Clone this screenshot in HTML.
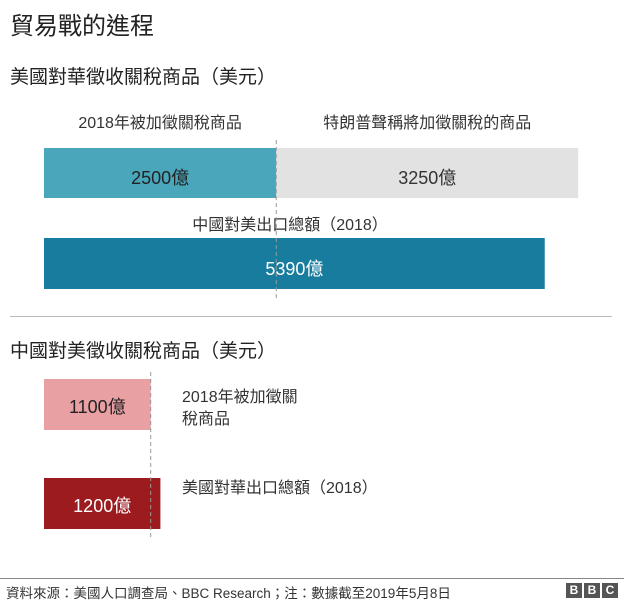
<!DOCTYPE html>
<html><head><meta charset="utf-8"><style>
body{margin:0;width:624px;height:604px;background:#fff;font-family:"Liberation Sans","Noto Sans CJK TC",sans-serif;color:#222;position:relative;overflow:hidden}
.t{position:absolute;white-space:nowrap}
</style></head><body>
<div class="t" style="left:10px;top:6px;font-size:24px;color:#222">貿易戰的進程</div>
<div class="t" style="left:10px;top:62px;font-size:19px">美國對華徵收關稅商品（美元）</div>
<div class="t" style="left:10px;top:336px;font-size:19px">中國對美徵收關稅商品（美元）</div>
<div style="position:absolute;left:10px;top:316px;width:602px;height:1px;background:#bbb"></div>
<svg id="c" width="624" height="604" style="position:absolute;left:0;top:0"></svg>
<div style="position:absolute;left:0;top:578px;width:624px;height:1px;background:#888"></div>
<div class="t" style="left:6px;top:582px;font-size:13.5px;color:#333">資料來源：美國人口調查局、BBC Research；注：數據截至2019年5月8日</div>
<div style="position:absolute;left:566px;top:583px;display:flex;gap:2px">
<span style="width:16px;height:15px;background:#555;color:#fff;font:bold 12px 'Liberation Sans';text-align:center;line-height:15px">B</span>
<span style="width:16px;height:15px;background:#555;color:#fff;font:bold 12px 'Liberation Sans';text-align:center;line-height:15px">B</span>
<span style="width:16px;height:15px;background:#555;color:#fff;font:bold 12px 'Liberation Sans';text-align:center;line-height:15px">C</span></div>
<script>
const usLabels=["2500億","3250億","5390億"];
const usValues=[2500,3250,5390];
const cnLabels=["1100億","1200億"];
const cnValues=[1100,1200];
const x0=44, k=0.0929, k2=0.097;
const X=v=>x0+v*k;
const X2=v=>x0+v*k2;
const svg=document.getElementById('c');
const NS='http://www.w3.org/2000/svg';
function rect(x,y,w,h,f,name){const r=document.createElementNS(NS,'rect');r.setAttribute('x',x);r.setAttribute('y',y);r.setAttribute('width',w);r.setAttribute('height',h);r.setAttribute('fill',f);


svg.appendChild(r);}
function text(x,y,s,c,sz,anchor,name){const t=document.createElementNS(NS,'text');t.setAttribute('x',x);t.setAttribute('y',y);t.setAttribute('fill',c);t.setAttribute('font-size',sz);t.setAttribute('text-anchor',anchor||'middle');t.setAttribute('font-family','"Liberation Sans","Noto Sans CJK TC",sans-serif');t.textContent=s;


svg.appendChild(t);}
function dash(x,y1,y2,name){const l=document.createElementNS(NS,'line');l.setAttribute('x1',x);l.setAttribute('x2',x);l.setAttribute('y1',y1);l.setAttribute('y2',y2);l.setAttribute('stroke','#999');l.setAttribute('stroke-dasharray','4,3');


svg.appendChild(l);}
rect(X(0),148,usValues[0]*k,50,'#4aa6bb','bar-tariffed-2018');
rect(X(usValues[0]),148,usValues[1]*k,50,'#e2e2e2','bar-threatened');
rect(X(0),238,usValues[2]*k,51,'#177c9e','bar-china-exports');
text((X(0)+X(usValues[0]))/2,184,usLabels[0],'#222',18,'middle','label-2500');
text((X(usValues[0])+X(usValues[0]+usValues[1]))/2,184,usLabels[1],'#333',18,'middle','label-3250');
text((X(0)+X(usValues[2]))/2,275,usLabels[2],'#fff',18,'middle','label-5390');
text((X(0)+X(usValues[0]))/2,128,'2018年被加徵關稅商品','#333',16,'middle','legend-tariffed-2018');
text((X(usValues[0])+X(usValues[0]+usValues[1]))/2,128,'特朗普聲稱將加徵關稅的商品','#333',16,'middle','legend-threatened');
text(290,230,'中國對美出口總額（2018）','#333',16,'middle','legend-china-exports');
dash(X(usValues[0]),140,300,'divider-2500');
rect(X2(0),379,cnValues[0]*k2,51,'#e8a0a3','bar-cn-tariffed-2018');
rect(X2(0),478,cnValues[1]*k2,51,'#9b1b1f','bar-us-exports');
text((X2(0)+X2(cnValues[0]))/2,413,cnLabels[0],'#222',18,'middle','label-1100');
text((X2(0)+X2(cnValues[1]))/2,512,cnLabels[1],'#fff',18,'middle','label-1200');
dash(X2(cnValues[0]),372,540,'divider-1100');
text(182,402,'2018年被加徵關','#333',16,'start','legend-cn-tariffed-1');
text(182,424,'稅商品','#333',16,'start','legend-cn-tariffed-2');
text(182,493,'美國對華出口總額（2018）','#333',16,'start','legend-us-exports');
</script>
</body></html>
